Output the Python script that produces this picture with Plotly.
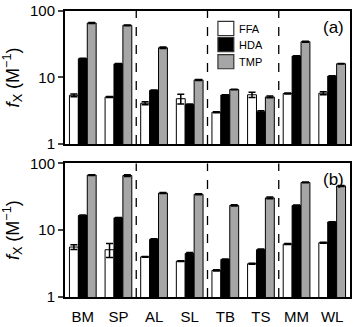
import plotly.graph_objects as go

categories = ["BM", "SP", "AL", "SL", "TB", "TS", "MM", "WL"]

# Panel (a)
a_ffa = [5.4, 5.1, 4.1, 4.8, 3.0, 5.5, 5.75, 5.8]
a_hda = [19.2, 16.0, 6.4, 3.9, 5.45, 3.05, 21.0, 10.5]
a_tmp = [66.0, 61.0, 28.0, 9.2, 6.6, 5.1, 34.5, 16.1]
a_ffa_err = [0.25, 0.1, 0.2, 0.8, 0.05, 0.5, 0.1, 0.3]
a_hda_err = [0.2, 0.2, 0.1, 0.1, 0.05, 0.1, 0.3, 0.1]
a_tmp_err = [1.2, 0.8, 0.8, 0.15, 0.05, 0.15, 0.6, 0.1]

# Panel (b)
b_ffa = [5.6, 5.1, 4.0, 3.45, 2.5, 3.15, 6.2, 6.5]
b_hda = [16.6, 15.3, 7.3, 4.5, 3.65, 5.1, 23.5, 13.3]
b_tmp = [67.0, 66.0, 36.0, 34.5, 23.5, 30.5, 52.0, 46.0]
b_ffa_err = [0.45, 1.2, 0.05, 0.05, 0.05, 0.05, 0.1, 0.1]
b_hda_err = [0.3, 0.2, 0.15, 0.15, 0.05, 0.15, 0.4, 0.1]
b_tmp_err = [1.0, 2.0, 0.6, 0.6, 0.5, 0.9, 0.8, 0.8]

series_names = ["FFA", "HDA", "TMP"]
series_colors = ["white", "black", "#a6a6a6"]

fig = go.Figure()

panels = [
    ("x", "y", [a_ffa, a_hda, a_tmp], [a_ffa_err, a_hda_err, a_tmp_err]),
    ("x2", "y2", [b_ffa, b_hda, b_tmp], [b_ffa_err, b_hda_err, b_tmp_err]),
]
for xa, ya, vals, errs in panels:
    for name, col, v, e in zip(series_names, series_colors, vals, errs):
        fig.add_trace(go.Bar(
            x=categories, y=v, name=name, xaxis=xa, yaxis=ya,
            marker=dict(color=col, line=dict(color="black", width=1)),
            error_y=dict(type="data", array=e, color="black", thickness=1.5, width=3.5),
            showlegend=False,
        ))

axis_common = dict(showline=True, mirror=True, linecolor="black", linewidth=2,
                   showgrid=False, zeroline=False)
ytitle = "<i>f</i><sub>X</sub> (M<sup>−1</sup>)"

yaxis_common = dict(type="log", range=[0, 2],
                    tickvals=[1, 10, 100], ticktext=["1", "10", "100"], ticks="outside",
                    ticklen=5, tickwidth=2, tickfont=dict(size=15),
                    title=dict(text=ytitle, font=dict(size=18), standoff=10), **axis_common)

fig.update_layout(
    width=354, height=327,
    margin=dict(l=65, r=2, t=5, b=20),
    paper_bgcolor="white", plot_bgcolor="white",
    barmode="group", bargap=0.25, bargroupgap=0,
    font=dict(family="Liberation Sans, Arial, sans-serif", color="black", size=13),
    xaxis=dict(domain=[0, 1], anchor="y", showticklabels=False, ticks="", **axis_common),
    xaxis2=dict(domain=[0, 1], anchor="y2", ticks="", tickfont=dict(size=15),
                ticklabelstandoff=5, **axis_common),
    yaxis=dict(domain=[0.535, 1], anchor="x", **yaxis_common),
    yaxis2=dict(domain=[0, 0.467], anchor="x2", **yaxis_common),
    showlegend=False,
)

for xa, ya in [("x", "y"), ("x2", "y2")]:
    for pos in [1.5, 3.5, 5.5]:
        fig.add_shape(type="line", xref=xa, yref=ya + " domain", x0=pos, x1=pos,
                      y0=0, y1=1, line=dict(color="black", width=1.3, dash="dash"))

# Legend (drawn in top panel)
legend_boxes = [(0.9139, 0.9636), (0.8576, 0.9073), (0.798, 0.8477)]
for name, col, (y0, y1) in zip(series_names, series_colors, legend_boxes):
    fig.add_shape(type="rect", xref="paper", yref="paper", x0=0.5366, x1=0.5923,
                  y0=y0, y1=y1, fillcolor=col, line=dict(color="#333333", width=1.2))
    fig.add_annotation(text=name, xref="paper", yref="paper", x=0.6028, y=(y0 + y1) / 2,
                       xanchor="left", yanchor="middle", showarrow=False,
                       font=dict(size=11))

fig.add_annotation(text="(a)", xref="x domain", yref="y domain", x=0.985, y=0.965,
                   xanchor="right", yanchor="top", showarrow=False, font=dict(size=17))
fig.add_annotation(text="(b)", xref="x2 domain", yref="y2 domain", x=0.985, y=0.965,
                   xanchor="right", yanchor="top", showarrow=False, font=dict(size=17))

fig.write_html("out.html")
